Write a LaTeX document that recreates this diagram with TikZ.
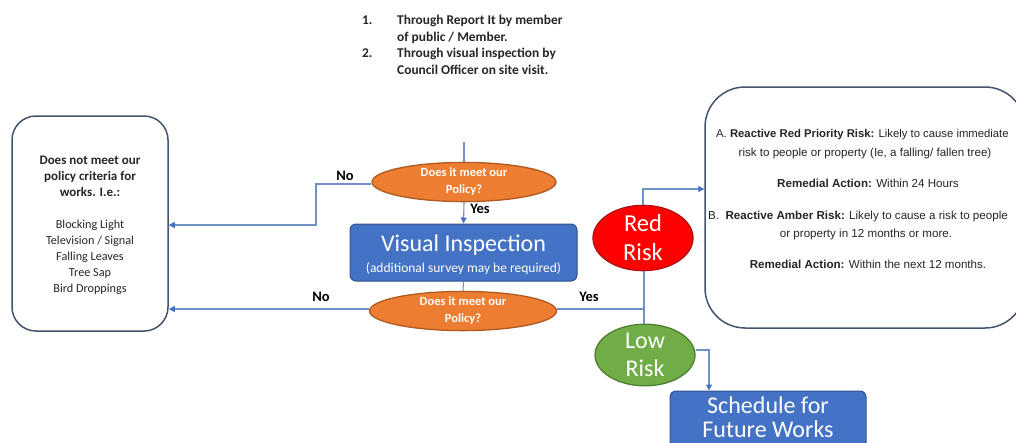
\documentclass[tikz,border=0pt]{standalone}
\usepackage{fontspec}
\setmainfont{Carlito}
\newfontfamily\arialf{Liberation Sans}
\usetikzlibrary{shapes.geometric,arrows.meta}
\definecolor{boxblue}{HTML}{4472C4}
\definecolor{boxblueb}{HTML}{2F528F}
\definecolor{orangef}{HTML}{ED7D31}
\definecolor{orangeb}{HTML}{AE5A21}
\definecolor{redf}{HTML}{FF0000}
\definecolor{redb}{HTML}{B01010}
\definecolor{greenf}{HTML}{70AD47}
\definecolor{greenb}{HTML}{507E32}
\definecolor{connc}{RGB}{110,145,200}
\definecolor{tipc}{HTML}{4472C4}
\definecolor{outline}{HTML}{44546A}
\definecolor{txtgrey}{HTML}{262626}
\tikzset{
  conn/.style={draw=connc, line width=1.1pt},
  arr/.style={conn, -{Triangle[length=6pt,width=6pt,color=tipc]}},
  ell/.style={ellipse, draw, line width=1.3pt, inner sep=0pt, align=center, text=white},
  qell/.style={ell, fill=orangef, draw=orangeb, font=\bfseries\fontsize{12.5}{17}\selectfont},
  bluebox/.style={rectangle, rounded corners=6pt, fill=boxblue, draw=boxblueb, line width=1pt, inner sep=0pt},
  whitebox/.style={rectangle, draw=outline, line width=1.5pt, inner sep=0pt},
  lbl/.style={font=\bfseries\fontsize{14.5}{16}\selectfont, text=black, inner sep=0pt},
  toptxt/.style={font=\bfseries\fontsize{13.4}{15}\selectfont, text=txtgrey, inner sep=0pt, anchor=base west},
  rtxt/.style={font=\arialf\fontsize{11.6}{13}\selectfont, text=txtgrey, inner sep=0pt},
  wtxt/.style={text=white, inner sep=0pt}
}
\begin{document}
\begin{tikzpicture}[x=1pt,y=-1pt]
\useasboundingbox (0,0) rectangle (1016,442);
\clip (0,0) rectangle (1016,442);
\fill[white] (0,0) rectangle (1016,442);

% top text
\node[toptxt] (n1) at (362,24.5) {1.};
\node[toptxt] (t1) at (397,24.5) {Through Report It by member};
\node[toptxt] (t1b) at (397,41.5) {of public / Member.};
\node[toptxt] (n2) at (362,57.5) {2.};
\node[toptxt] (t2) at (397,57.5) {Through visual inspection by};
\node[toptxt] (t2b) at (397,74.5) {Council Officer on site visit.};

% left box
\node[whitebox, rounded corners=24pt, minimum width=156pt, minimum height=215pt] (lbox) at (90,223.5) {};
\node[inner sep=0pt, align=center, text=txtgrey, font=\fontsize{12.2}{16}\selectfont] (ltxt) at (90,225.5)
  {\textbf{\fontsize{13}{16}\selectfont Does not meet our}\\\textbf{\fontsize{13}{16}\selectfont policy criteria for}\\\textbf{\fontsize{13}{16}\selectfont works. I.e.:}\\[16pt]Blocking Light\\Television / Signal\\Falling Leaves\\Tree Sap\\Bird Droppings};

% right box
\node[whitebox, rounded corners=40pt, minimum width=320pt, minimum height=241pt] (rbox) at (865,207.5) {};
\node[rtxt, anchor=base west, font=\arialf\fontsize{11.3}{13}\selectfont] (ra) at (716,137) {A. \textbf{Reactive Red Priority Risk:} Likely to cause immediate};
\node[rtxt, anchor=base] (rb) at (865,156) {risk to people or property (Ie, a falling/ fallen tree)};
\node[rtxt, anchor=base] (rc) at (868,187) {\textbf{Remedial Action:} Within 24 Hours};
\node[rtxt, anchor=base west] (rd) at (708,219) {B.\ \ \textbf{Reactive Amber Risk:} Likely to cause a risk to people};
\node[rtxt, anchor=base] (re) at (866,237) {or property in 12 months or more.};
\node[rtxt, anchor=base] (rf) at (868,268) {\textbf{Remedial Action:} Within the next 12 months.};

% decision ellipses
\node[qell, minimum width=184pt, minimum height=31pt] (q1) at (464,182) {Does it meet our\\Policy?};
\node[qell, minimum width=187pt, minimum height=32pt] (q2) at (463,311) {Does it meet our\\Policy?};

% visual inspection
\node[bluebox, minimum width=227pt, minimum height=57pt] (vi) at (463.5,252.5) {};
\node[wtxt, font=\fontsize{24}{26}\selectfont] (vit) at (463.5,245) {Visual Inspection};
\node[wtxt, font=\fontsize{13.5}{15}\selectfont] (vis) at (463.5,268.5) {(additional survey may be required)};

% risk ellipses
\node[ell, fill=redf, draw=redb, minimum width=100pt, minimum height=62pt, font=\fontsize{24.5}{29}\selectfont] (red) at (643,238) {Red\\Risk};
\node[ell, fill=greenf, draw=greenb, minimum width=100pt, minimum height=55pt, font=\fontsize{24}{28}\selectfont] (low) at (645,355) {Low\\Risk};

% schedule box
\node[bluebox, minimum width=196pt, minimum height=80pt] (sch) at (768,431) {};
\node[wtxt, font=\fontsize{24}{26}\selectfont] (scht1) at (768,405) {Schedule for};
\node[wtxt, font=\fontsize{24}{26}\selectfont, anchor=base] (scht2) at (768,437.5) {Future Works};

% coordinates
\coordinate (topstart) at (464,142);
\coordinate (turn1) at (316,184);
\coordinate (lin1) at (0,225);
\coordinate (lin2) at (0,309);
\coordinate (jn) at (644,309);
\coordinate (redup) at (643,189);
\coordinate (lowturn) at (709,350);

% connectors
\draw[conn] (topstart) -- (q1.north);
\draw[arr] (q1.west |- turn1) -- (turn1) -- (turn1 |- lin1) -- (lbox.east |- lin1);
\draw[arr] (q1.south) -- (vi.north);
\draw[conn] (vi.south) -- (q2.north);
\draw[arr] (q2.west |- lin2) -- (lbox.east |- lin2);
\draw[conn] (q2.east |- jn) -- (jn);
\draw[conn] (red.south -| jn) -- (low.north -| jn);
\draw[arr] (red.north) -- (redup) -- (rbox.west |- redup);
\draw[arr] (low.east |- lowturn) -- (lowturn) -- (sch.north -| lowturn);

% labels
\node[lbl] (no1) at (345,176) {No};
\node[lbl] (yes1) at (480,209) {Yes};
\node[lbl] (no2) at (321,297) {No};
\node[lbl] (yes2) at (589,297) {Yes};
\end{tikzpicture}
\end{document}
